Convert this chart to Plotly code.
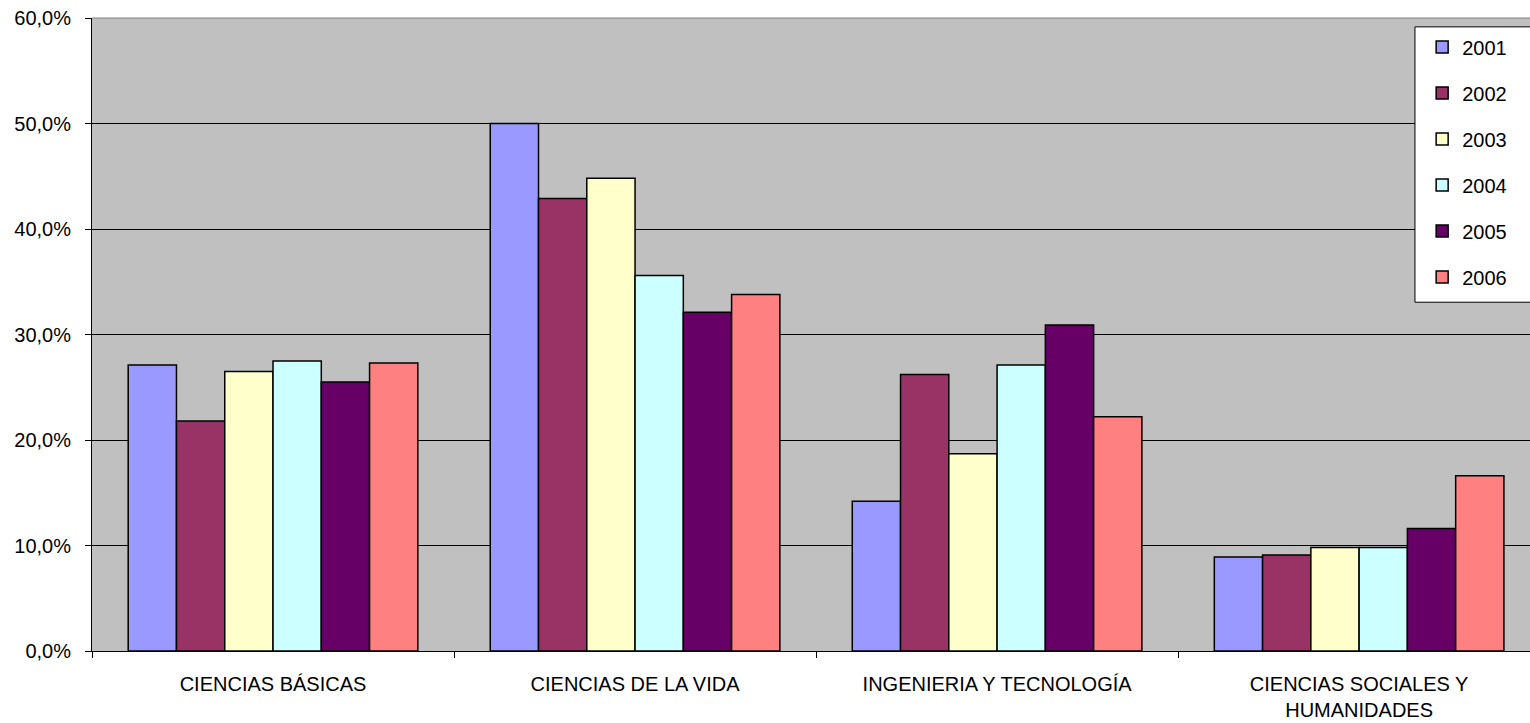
import plotly.graph_objects as go

categories = ["CIENCIAS BÁSICAS", "CIENCIAS DE LA VIDA", "INGENIERIA Y TECNOLOGÍA",
              "CIENCIAS SOCIALES Y<br>HUMANIDADES"]
years = ["2001", "2002", "2003", "2004", "2005", "2006"]

v2001 = [27.1, 50.0, 14.2, 8.9]
v2002 = [21.8, 42.9, 26.2, 9.1]
v2003 = [26.5, 44.8, 18.7, 9.8]
v2004 = [27.5, 35.6, 27.1, 9.8]
v2005 = [25.5, 32.1, 30.9, 11.6]
v2006 = [27.3, 33.8, 22.2, 16.6]
series = [v2001, v2002, v2003, v2004, v2005, v2006]

colors = ["#9999FF", "#993366", "#FFFFCC", "#CCFFFF", "#660066", "#FF8080"]

y_ticks = [0, 10, 20, 30, 40, 50, 60]
y_ticktext = [f"{v:.1f}".replace(".", ",") + "%" for v in y_ticks]

FONT = "Liberation Sans, Arial, sans-serif"

fig = go.Figure()
for name, vals, col in zip(years, series, colors):
    fig.add_trace(go.Bar(
        x=categories, y=vals, name=name, legendgroup=name,
        marker=dict(color=col, line=dict(color="black", width=1.5)),
    ))

fig.update_layout(
    width=1530, height=723,
    margin=dict(l=92, r=0, t=18, b=72),
    paper_bgcolor="white",
    plot_bgcolor="#C0C0C0",
    barmode="group",
    bargap=0.2,
    bargroupgap=0,
    font=dict(family=FONT, size=20, color="black"),
    showlegend=True,
    legend=dict(
        x=0.925, y=0.985, xanchor="left", yanchor="top",
        bgcolor="rgba(0,0,0,0)", borderwidth=0,
        font=dict(family=FONT, size=20, color="black"),
        tracegroupgap=17,
    ),
    xaxis=dict(
        type="category",
        range=[-0.5, 3.472],
        showgrid=False,
        showline=True, linecolor="black", linewidth=1,
        ticks="outside", tickson="boundaries", ticklen=6, tickcolor="black",
        ticklabelstandoff=15,
        tickfont=dict(family=FONT, size=20),
    ),
    yaxis=dict(
        range=[0, 60],
        tickmode="array", tickvals=y_ticks, ticktext=y_ticktext,
        showgrid=True, gridcolor="black", gridwidth=1,
        zeroline=False,
        showline=True, linecolor="black", linewidth=1,
        ticks="outside", ticklen=6, tickcolor="black",
        ticklabelstandoff=10,
        tickfont=dict(family=FONT, size=20),
    ),
    shapes=[
        dict(type="line", xref="paper", yref="paper", x0=0, x1=1, y0=1, y1=1,
             line=dict(color="#808080", width=1), layer="above"),
        dict(type="rect", xref="paper", yref="paper", x0=0.92, x1=1.02, y0=0.551, y1=0.986,
             fillcolor="white", line=dict(color="black", width=1), layer="above"),
    ],
)

fig.write_html("out.html")
